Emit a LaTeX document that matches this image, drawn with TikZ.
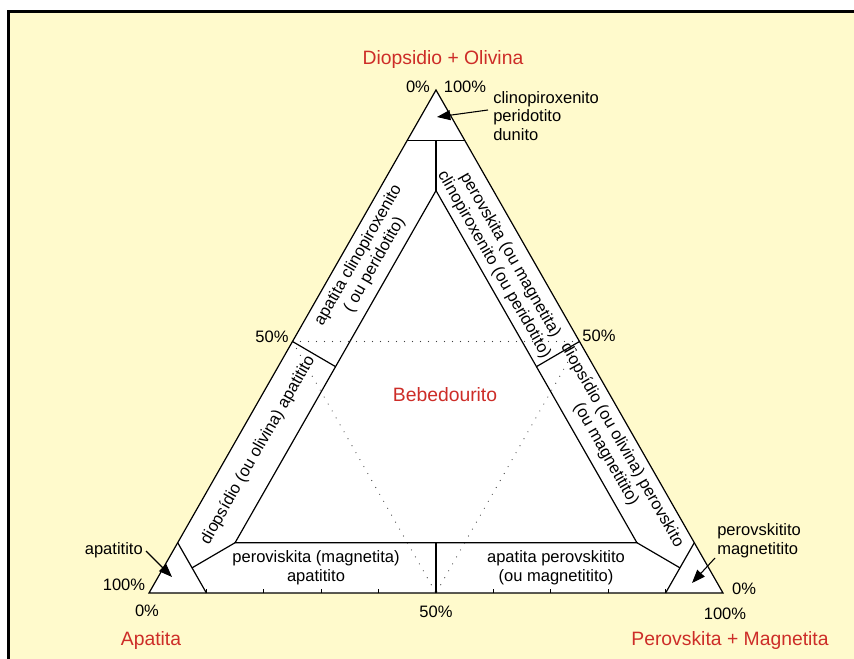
\documentclass[tikz,border=0pt]{standalone}
\usepackage{fontspec}
\setmainfont{Liberation Sans}
\usetikzlibrary{arrows.meta}
\definecolor{bg}{RGB}{255,250,204}
\definecolor{lab}{RGB}{205,45,40}
\begin{document}
\begin{tikzpicture}[x=0.75pt,y=-0.75pt,
  edge/.style={line width=0.9pt, black},
  dots/.style={line width=0.9pt, dash pattern=on 0pt off 6pt, line cap=round, black!75},
  txt/.style={font=\fontsize{12.4}{14}\selectfont, align=center, inner sep=0pt},
  big/.style={font=\fontsize{14.5}{17}\selectfont, text=lab, inner sep=0pt},
  pointer/.style={line width=0.8pt, -{Triangle[length=10pt,width=7.5pt]}}
]
\useasboundingbox (0,0) rectangle (854,659);
\fill[white] (0,0) rectangle (854,659);
\fill[bg] (8.3,11.3) rectangle (854,659);
\draw[line width=2.3pt] (8.3,659) -- (8.3,11.3) -- (854,11.3);

% ternary points
\coordinate (A) at (436,90);
\coordinate (L) at (149,593);
\coordinate (R) at (723,593);
\coordinate (Ml) at (292.5,341.5);
\coordinate (Mr) at (579.5,341.5);
\coordinate (Mb) at (436,593);
\coordinate (Ta) at (436,190.6);
\coordinate (Tl) at (235.1,542.7);
\coordinate (Tr) at (636.9,542.7);
\coordinate (Dl) at (407.3,140.3);
\coordinate (Dr) at (464.7,140.3);
\coordinate (Dm) at (436,140.3);
\coordinate (Al) at (177.7,542.7);
\coordinate (Ab) at (206.4,593);
\coordinate (Am) at (192.05,567.85);
\coordinate (Pr) at (694.3,542.7);
\coordinate (Pb) at (665.6,593);
\coordinate (Pm) at (679.95,567.85);
\coordinate (Ql) at (335.55,366.65);
\coordinate (Qr) at (536.45,366.65);
\coordinate (Qb) at (436,542.7);

\fill[white] (A) -- (L) -- (R) -- cycle;
\draw[dots] (Ml) -- (Mr);
\draw[dots] (Ml) -- (Mb);
\draw[dots] (Mr) -- (Mb);

\draw[edge, line join=miter] (A) -- (L) -- (R) -- cycle;
\draw[edge] (Dl) -- (Dr);
\draw[edge] (Dm) -- (Ta);
\draw[edge] (Ta) -- (Tl) -- (Tr) -- cycle;
\draw[edge] (Tl) -- (Am);
\draw[edge] (Al) -- (Ab);
\draw[edge] (Tr) -- (Pm);
\draw[edge] (Pr) -- (Pb);
\draw[edge] (Ml) -- (Ql);
\draw[edge] (Mr) -- (Qr);
\draw[edge] (Mb) -- (Qb);
\foreach \k in {1,2,3,4,6,7,8,9}
  \draw[edge] ({149+57.4*\k},593) -- ++(0,-4);

% corner labels
\node[big] (tD) at (443,60) {Diopsidio + Olivina};
\node[txt] (a0) at (418,87) {0\%};
\node[txt] (a100) at (465,87) {100\%};
\node[txt, align=left, anchor=west] (lc) at (493,116) {clinopiroxenito\\peridotito\\dunito};
\coordinate (c1s) at (488,110);
\coordinate (c1e) at (437,117);
\draw[pointer] (c1s) -- (c1e);

\node[txt] (l50) at (272,337) {50\%};
\node[txt] (r50) at (599,336) {50\%};
\node[big] (tB) at (445,395) {Bebedourito};

\node[txt, anchor=east] (lap) at (143,550) {apatitito};
\coordinate (c2s) at (146,551);
\coordinate (c2e) at (172,577);
\draw[pointer] (c2s) -- (c2e);
\node[txt] (l100) at (124,585) {100\%};
\node[txt] (l0) at (147,611) {0\%};
\node[big] (tA) at (151,641) {Apatita};
\node[txt] (b50) at (436,612) {50\%};

\node[txt, align=left, anchor=west] (lpm) at (717,541) {perovskitito\\magnetitito};
\coordinate (c3s) at (715,558);
\coordinate (c3e) at (692,583);
\draw[pointer] (c3s) -- (c3e);
\node[txt] (r0) at (744,589) {0\%};
\node[txt] (r100) at (725,614) {100\%};
\node[big] (tP) at (730,640) {Perovskita + Magnetita};

% band labels
\node[txt, rotate=60.3] (b1) at (366.6,260) {apatita clinopiroxenito\\( ou peridotito)};
\node[txt, rotate=60.3] (b2) at (258,450) {diopsídio (ou olivina) apatitito};
\node[txt, rotate=-60.3] (b3) at (502,260) {perovskita (ou magnetita)\\clinopiroxenito (ou peridotito)};
\node[txt, rotate=-60.3] (b4) at (614,450) {diopsídio (ou olivina) perovskito\\(ou magnetitito)};
\node[txt] (b5) at (316,568) {peroviskita (magnetita)\\apatitito};
\node[txt] (b6) at (556,568) {apatita perovskitito\\(ou magnetitito)};
\end{tikzpicture}
\end{document}
